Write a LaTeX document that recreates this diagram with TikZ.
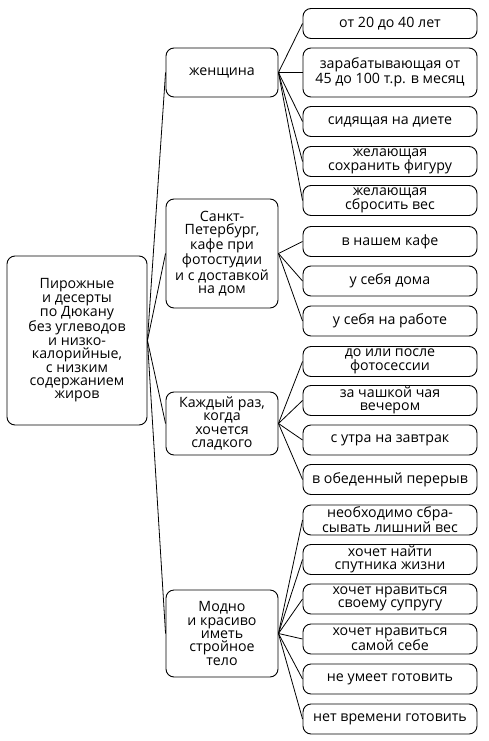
\documentclass[tikz,border=0pt]{standalone}
\usepackage{fontspec}
\setmainfont{Open Sans}
\tikzset{
  box/.style={draw, rounded corners=8pt, line width=0.9pt, align=center,
    font=\fontsize{14.2}{13.4}\selectfont, inner sep=1pt},
  rootbox/.style={box, minimum width=140pt, minimum height=169pt},
  midbox/.style={box, minimum width=112pt},
  leafbox/.style={box, minimum width=174pt, minimum height=30pt},
  link/.style={line width=0.8pt}
}
\begin{document}
\begin{tikzpicture}[x=1pt,y=-1pt]
	\useasboundingbox (0,0) rectangle (488,741);
	% root
	\node[rootbox] (root) at (77,340.5) {Пирожные\\и десерты\\по Дюкану\\без углеводов\\и низко-\\калорийные,\\с низким\\содержанием\\жиров};
	% middle level
	\node[midbox, minimum height=49pt] (woman) at (222,72.5) {женщина};
	\node[midbox, minimum height=109pt] (place) at (222,253.5) {Санкт-\\Петербург,\\кафе при\\фотостудии\\и с доставкой\\на дом};
	\node[midbox, minimum height=63pt] (time) at (222,423.5) {Каждый раз,\\когда\\хочется\\сладкого};
	\node[midbox, minimum height=87pt] (why) at (222,633.5) {Модно\\и красиво\\иметь\\стройное\\тело};
	% leaves
	\node[leafbox] (w1) at (390,23.5) {от 20 до 40 лет};
	\node[leafbox, minimum height=49pt] (w2) at (390,72.5) {зарабатывающая от\\45 до 100 т.р. в месяц};
	\node[leafbox] (w3) at (390,121.5) {сидящая на диете};
	\node[leafbox] (w4) at (390,161.5) {желающая\\сохранить фигуру};
	\node[leafbox] (w5) at (390,200.5) {желающая\\сбросить вес};
	\node[leafbox] (p1) at (390,241.5) {в нашем кафе};
	\node[leafbox] (p2) at (390,281) {у себя дома};
	\node[leafbox] (p3) at (390,321) {у себя на работе};
	\node[leafbox] (t1) at (390,361.5) {до или после\\фотосессии};
	\node[leafbox] (t2) at (390,400.5) {за чашкой чая\\вечером};
	\node[leafbox] (t3) at (390,440) {с утра на завтрак};
	\node[leafbox] (t4) at (390,479.5) {в обеденный перерыв};
	\node[leafbox] (y1) at (390,520) {необходимо сбра-\\сывать лишний вес};
	\node[leafbox] (y2) at (390,559.5) {хочет найти\\спутника жизни};
	\node[leafbox] (y3) at (390,599) {хочет нравиться\\своему супругу};
	\node[leafbox] (y4) at (390,639) {хочет нравиться\\самой себе};
	\node[leafbox] (y5) at (390,679) {не умеет готовить};
	\node[leafbox] (y6) at (390,719) {нет времени готовить};
	% connectors
	\foreach \m in {woman,place,time,why}
	\draw[link] (root.east) -- (\m.west);
	\foreach \l in {w1,w2,w3,w4,w5}
	\draw[link] (woman.east) -- (\l.west);
	\foreach \l in {p1,p2,p3}
	\draw[link] (place.east) -- (\l.west);
	\foreach \l in {t1,t2,t3,t4}
	\draw[link] (time.east) -- (\l.west);
	\foreach \l in {y1,y2,y3,y4,y5,y6}
	\draw[link] (why.east) -- (\l.west);
\end{tikzpicture}
\end{document}
